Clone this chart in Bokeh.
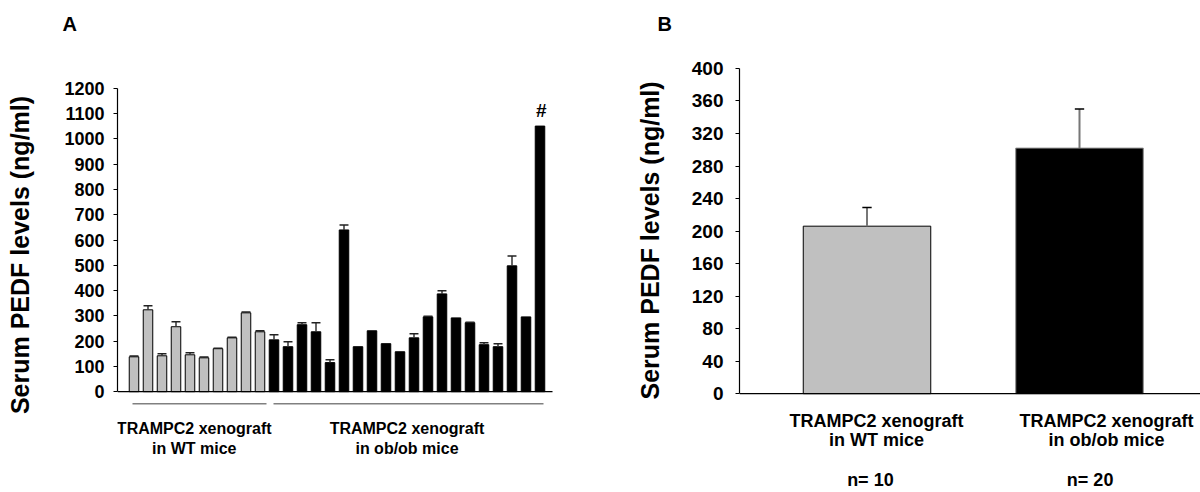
from bokeh.plotting import figure
from bokeh.models import FixedTicker, Range1d, Title, LinearAxis
from bokeh.layouts import row
from bokeh.embed import file_html
from bokeh.resources import INLINE
from bokeh.core.properties import value

# ---------------- data ----------------
wt_values = [138, 324, 142, 257, 146, 134, 170, 213, 312, 237]
wt_errors = [3, 16, 8, 20, 8, 3, 2, 2, 3, 4]
ob_values = [205, 178, 265, 237, 115, 640, 178, 241, 190, 158,
             213, 296, 387, 292, 273, 186, 178, 498, 296, 1051]
ob_errors = [20, 20, 8, 36, 11, 20, 0, 0, 0, 0,
             16, 2, 12, 0, 2, 8, 12, 39, 0, 0]
group_labels = [["TRAMPC2 xenograft", "in WT mice"],
                ["TRAMPC2 xenograft", "in ob/ob mice"]]
mean_values = [206, 302]
mean_errors = [23, 48]
n_labels = ["n= 10", "n= 20"]
ticks_a = list(range(0, 1201, 100))
ticks_b = list(range(0, 401, 40))
y_label = "Serum PEDF levels (ng/ml)"
panel_letters = ["A", "B"]

FONT = "Liberation Sans"
H = 492
TOP = 42       # frame top (both panels)
BOTTOM = 468   # frame bottom (both panels)
GRAY = "#c0c0c0"


def style_yaxis(ax, ticks, bounds, size, standoff):
    ax.bounds = bounds
    ax.ticker = FixedTicker(ticks=ticks)
    ax.minor_tick_line_color = None
    ax.major_tick_out = 4
    ax.major_tick_in = 0
    ax.major_label_standoff = standoff
    ax.major_label_text_font = FONT
    ax.major_label_text_font_style = "bold"
    ax.major_label_text_font_size = size
    ax.major_label_text_color = "black"
    ax.axis_line_color = "black"
    ax.axis_line_width = 1.2
    ax.major_tick_line_color = "black"


def letter_title(text, offset):
    return Title(text=text, align="left", offset=offset, standoff=16, vertical_align="bottom",
                 text_font=FONT, text_font_style="bold", text_font_size="20px",
                 text_color="black")


# ---------------- panel A ----------------
WA = 600
a_left, a_x0, a_dx = 117, 133.5, 14.0
a_base, a_ppu = 392, 0.2533
ax = lambda px: (px - a_x0) / a_dx
ay = lambda py: (a_base - py) / a_ppu

pA = figure(width=WA, height=H, output_backend="svg", toolbar_location=None,
            x_range=Range1d(ax(a_left), ax(WA)), y_range=Range1d(ay(BOTTOM), ay(TOP)),
            x_axis_location=None, min_border_left=a_left, min_border_right=0,
            min_border_top=TOP, min_border_bottom=H - BOTTOM)
pA.outline_line_color = None
pA.grid.visible = False
yaA = pA.yaxis[0]
style_yaxis(yaA, ticks_a, (0, 1200), "18px", 9)
yaA.axis_label = y_label
yaA.axis_label_text_font = FONT
yaA.axis_label_text_font_style = "bold"
yaA.axis_label_text_font_size = "25px"
yaA.axis_label_text_color = "black"
yaA.axis_label_standoff = 27

all_vals = wt_values + ob_values
all_errs = wt_errors + ob_errors
xs = list(range(len(all_vals)))
colors = [GRAY] * len(wt_values) + ["black"] * len(ob_values)
pA.vbar(x=xs, top=all_vals, width=0.68, bottom=0, fill_color=colors, line_color="black", line_width=1)

ex = [x for x, e in zip(xs, all_errs) if e > 0]
ev = [v for v, e in zip(all_vals, all_errs) if e > 0]
ee = [v + e for v, e in zip(all_vals, all_errs) if e > 0]
pA.segment(x0=ex, y0=ev, x1=ex, y1=ee, line_color="#333333", line_width=1.5)
pA.segment(x0=[x - 0.32 for x in ex], y0=ee, x1=[x + 0.32 for x in ex], y1=ee,
           line_color="#222222", line_width=1.5)

# baseline
pA.segment(x0=[ax(a_left)], y0=[0], x1=[ax(552)], y1=[0], line_color="black", line_width=1.2)
# '#' marker above last bar
pA.text(x=[xs[-1] + 0.1], y=[all_vals[-1] + 60], text=["#"], text_font=value(FONT),
        text_font_style="bold", text_font_size="19px", text_align="center",
        text_baseline="middle", text_color="black")
# group underlines
nw = len(wt_values)
pA.segment(x0=[ax(132), ax(273)], y0=[ay(404)] * 2, x1=[ax(266), ax(543)], y1=[ay(404)] * 2,
           line_color="#808080", line_width=1.5)
gx = [(nw - 1) / 2 - 0.2, nw + (len(ob_values) - 1) / 2]
for cx, lines in zip(gx, group_labels):
    pA.text(x=[cx, cx], y=[ay(429), ay(449)], text=lines, text_font=value(FONT),
            text_font_style="bold", text_font_size="16px", text_align="center",
            text_baseline="middle", text_color="black")

pA.add_layout(letter_title(panel_letters[0], 62 - a_left), "above")

# ---------------- panel B ----------------
WB = 600
OFF = 600  # panel B starts at this page x
b_left_abs, b_x0, b_dx = 739, 866.5, 212.5
b_base, b_ppu = 394, 0.815
bx = lambda px: (px - b_x0) / b_dx
by = lambda py: (b_base - py) / b_ppu

pB = figure(width=WB, height=H, output_backend="svg", toolbar_location=None,
            x_range=Range1d(bx(b_left_abs), bx(OFF + WB)), y_range=Range1d(by(BOTTOM), by(TOP)),
            x_axis_location=None, min_border_left=b_left_abs - OFF, min_border_right=0,
            min_border_top=TOP, min_border_bottom=H - BOTTOM)
pB.outline_line_color = None
pB.grid.visible = False
yaB = pB.yaxis[0]
style_yaxis(yaB, ticks_b, (0, 400), "19px", 12)

bxs = [0, 1]
pB.vbar(x=bxs, top=mean_values, width=0.6, bottom=0, fill_color=[GRAY, "black"],
        line_color=["black", "#888888"], line_width=1)
btop = [v + e for v, e in zip(mean_values, mean_errors)]
pB.segment(x0=bxs, y0=mean_values, x1=bxs, y1=btop, line_color="#777777", line_width=2)
pB.segment(x0=[x - 0.022 for x in bxs], y0=btop, x1=[x + 0.022 for x in bxs], y1=btop,
           line_color="black", line_width=1.5)
pB.segment(x0=[bx(b_left_abs)], y0=[0], x1=[bx(OFF + WB)], y1=[0], line_color="black", line_width=1.2)

lab_off = [0.045, 0.127]
n_off = [0.016, 0.05]
for i, lines in enumerate(group_labels):
    cx = bxs[i] + lab_off[i]
    pB.text(x=[cx, cx], y=[by(421), by(440)], text=lines, text_font=value(FONT),
            text_font_style="bold", text_font_size="18px", text_align="center",
            text_baseline="middle", text_color="black")

# group sizes shown as labels of an x axis below the frame
n_pos = [bxs[i] + n_off[i] for i in range(len(bxs))]
xaB = LinearAxis(ticker=FixedTicker(ticks=n_pos),
                 major_label_overrides={p: t for p, t in zip(n_pos, n_labels)},
                 axis_line_color=None, major_tick_line_color=None, minor_tick_line_color=None,
                 major_tick_out=0, major_tick_in=0, major_label_standoff=2,
                 major_label_text_font=FONT, major_label_text_font_style="bold",
                 major_label_text_font_size="18px", major_label_text_color="black")
pB.add_layout(xaB, "below")

pB.add_layout(letter_title(panel_letters[1], 657 - b_left_abs), "above")
pB.add_layout(Title(text=y_label, align="left", offset=BOTTOM - 400, standoff=48,
                    vertical_align="middle", text_font=FONT, text_font_style="bold",
                    text_font_size="25px", text_color="black"), "left")

layout = row(pA, pB)
open("out.html", "w").write(file_html(layout, INLINE))
